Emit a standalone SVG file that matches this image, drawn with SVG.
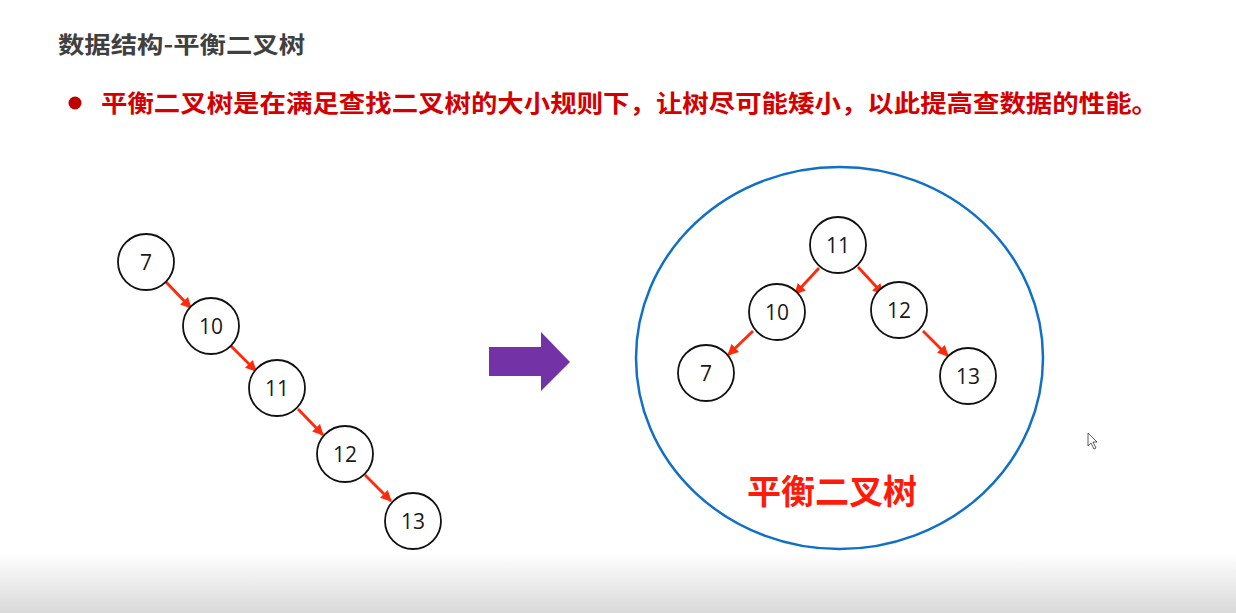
<svg xmlns="http://www.w3.org/2000/svg" width="1236" height="613" viewBox="0 0 1236 613">
<defs>
<linearGradient id="bottomFade" x1="0" y1="0" x2="0" y2="1">
<stop offset="0" stop-color="#ffffff"/>
<stop offset="1" stop-color="#d9d9d9"/>
</linearGradient>
<marker id="ah" markerWidth="12" markerHeight="12" refX="10" refY="6" orient="auto" markerUnits="userSpaceOnUse">
<path d="M0,0.5 L11,6 L0,11.5 Z" fill="#ff2a0a"/>
</marker>
</defs>
<style>
.node circle{fill:#fff;stroke:#111;stroke-width:1.8}
.node text{font-family:"Open Sans","Noto Sans",sans-serif;font-size:21px;fill:#1a1a1a;text-anchor:middle;dominant-baseline:central}
.edge{stroke:#ff2a0a;stroke-width:2.8;fill:none;marker-end:url(#ah)}
.cjk{font-family:"Noto Sans CJK SC","Noto Sans",sans-serif;font-weight:bold}
</style>
<rect width="1236" height="613" fill="#fff"/>
<rect x="0" y="553" width="1236" height="60" fill="url(#bottomFade)"/>

<text class="cjk" x="58" y="53" font-size="23" fill="#404040" textLength="247" lengthAdjust="spacingAndGlyphs">数据结构-平衡二叉树</text>
<circle cx="75" cy="103" r="6.5" fill="#c00000"/>
<text class="cjk" x="101" y="112" font-size="24" fill="#d40000" textLength="1057" lengthAdjust="spacingAndGlyphs">平衡二叉树是在满足查找二叉树的大小规则下，让树尽可能矮小，以此提高查数据的性能。</text>

<g id="connectors">
<line class="edge" x1="166" y1="282" x2="191" y2="308"/>
<line class="edge" x1="231" y1="346" x2="256" y2="371"/>
<line class="edge" x1="298" y1="409" x2="323" y2="435"/>
<line class="edge" x1="365" y1="475" x2="391" y2="501"/>
<line class="edge" x1="819" y1="268" x2="795" y2="294"/>
<line class="edge" x1="858" y1="267" x2="883" y2="294"/>
<line class="edge" x1="753" y1="331" x2="728" y2="355"/>
<line class="edge" x1="923" y1="331" x2="948" y2="356"/>
</g>

<g id="l7" class="node"><circle cx="146" cy="262" r="28"/><text x="146" y="262">7</text></g>
<g id="l10" class="node"><circle cx="211" cy="326" r="28"/><text x="211" y="326">10</text></g>
<g id="l11" class="node"><circle cx="277" cy="388" r="28"/><text x="277" y="388">11</text></g>
<g id="l12" class="node"><circle cx="345" cy="454" r="28"/><text x="345" y="454">12</text></g>
<g id="l13" class="node"><circle cx="413" cy="521" r="28"/><text x="413" y="521">13</text></g>

<g id="bigArrow"><polygon points="489,347 541,347 541,332 570,362 541,391 541,376 489,376" fill="#7332a6"/></g>

<g id="balancedTree">
<ellipse cx="839.5" cy="358" rx="203.5" ry="191" fill="none" stroke="#1070c8" stroke-width="2.5"/>
<text class="cjk" x="747" y="504" font-size="34" fill="#ff1a0a" textLength="170" lengthAdjust="spacingAndGlyphs">平衡二叉树</text>
</g>
<g id="r11" class="node"><circle cx="838" cy="245" r="28"/><text x="838" y="245">11</text></g>
<g id="r10" class="node"><circle cx="777" cy="312" r="28"/><text x="777" y="312">10</text></g>
<g id="r12" class="node"><circle cx="899" cy="310" r="28"/><text x="899" y="310">12</text></g>
<g id="r7" class="node"><circle cx="706" cy="373" r="28"/><text x="706" y="373">7</text></g>
<g id="r13" class="node"><circle cx="968" cy="376" r="28"/><text x="968" y="376">13</text></g>

<g id="cursor"><polygon points="1088,433 1088,446 1091,443 1094,449 1096,448 1093,442 1097,442" fill="#fff" stroke="#333" stroke-width="0.8"/></g>
</svg>
